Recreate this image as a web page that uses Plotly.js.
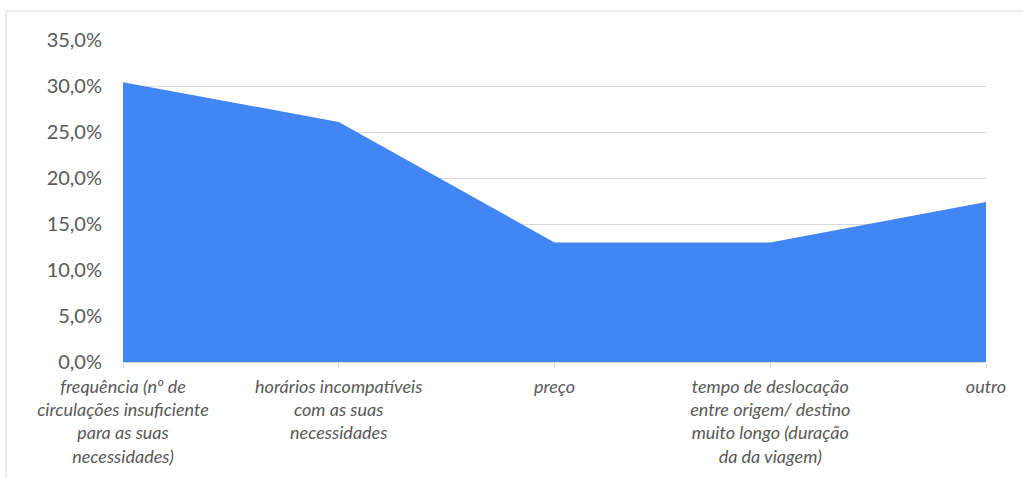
<!DOCTYPE html>
<html>
<head>
<meta charset="utf-8">
<script src="https://cdn.plot.ly/plotly-3.0.1.min.js"></script>
<style>html,body{margin:0;padding:0;background:#fff;}#chart{width:1023px;height:478px;}</style>
</head>
<body>
<div id="chart"></div>
<script>
const categories = [
  "frequência (nº de<br>circulações insuficiente<br>para as suas<br>necessidades)",
  "horários incompatíveis<br>com as suas<br>necessidades",
  "preço",
  "tempo de deslocação<br>entre origem/ destino<br>muito longo (duração<br>da da viagem)",
  "outro"
];
const values = [30.4, 26.1, 13.0, 13.0, 17.4];
const yTicks = [0, 5, 10, 15, 20, 25, 30, 35];
const yTickLabels = ["0,0%", "5,0%", "10,0%", "15,0%", "20,0%", "25,0%", "30,0%", "35,0%"];

const trace = {
  type: 'scatter',
  mode: 'lines',
  x: [0, 1, 2, 3, 4],
  y: values,
  fill: 'tozeroy',
  fillcolor: '#4285f4',
  line: {color: '#4285f4', width: 0},
  hoverinfo: 'skip'
};

const layout = {
  width: 1023,
  height: 478,
  margin: {l: 123, r: 37, t: 40, b: 116},
  paper_bgcolor: '#ffffff',
  plot_bgcolor: '#ffffff',
  showlegend: false,
  font: {family: 'Lato, sans-serif', color: '#595959'},
  xaxis: {
    range: [0, 4],
    tickvals: [0, 1, 2, 3, 4],
    ticktext: categories,
    showgrid: false,
    zeroline: false,
    showline: true,
    linecolor: '#d9d9d9',
    linewidth: 1,
    ticks: 'outside',
    ticklen: 5,
    tickcolor: '#d9d9d9',
    ticklabelstandoff: 3,
    tickfont: {family: 'Lato, sans-serif', size: 18, color: '#595959', style: 'italic'},
    fixedrange: true
  },
  yaxis: {
    range: [0, 35],
    tickvals: yTicks,
    ticktext: yTickLabels,
    showgrid: true,
    gridcolor: '#d9d9d9',
    gridwidth: 1,
    zeroline: false,
    showline: false,
    ticks: '',
    ticklabelstandoff: 20,
    tickfont: {family: 'Lato, sans-serif', size: 20, color: '#595959'},
    fixedrange: true
  },
  shapes: [{
    type: 'rect', xref: 'paper', yref: 'paper',
    x0: -0.1356, x1: 1.3, y0: -0.6, y1: 1.0901,
    line: {color: '#d9d9d9', width: 1},
    fillcolor: 'rgba(0,0,0,0)',
    layer: 'below'
  }]
};

Plotly.newPlot('chart', [trace], layout, {displayModeBar: false, staticPlot: true});
</script>
</body>
</html>
